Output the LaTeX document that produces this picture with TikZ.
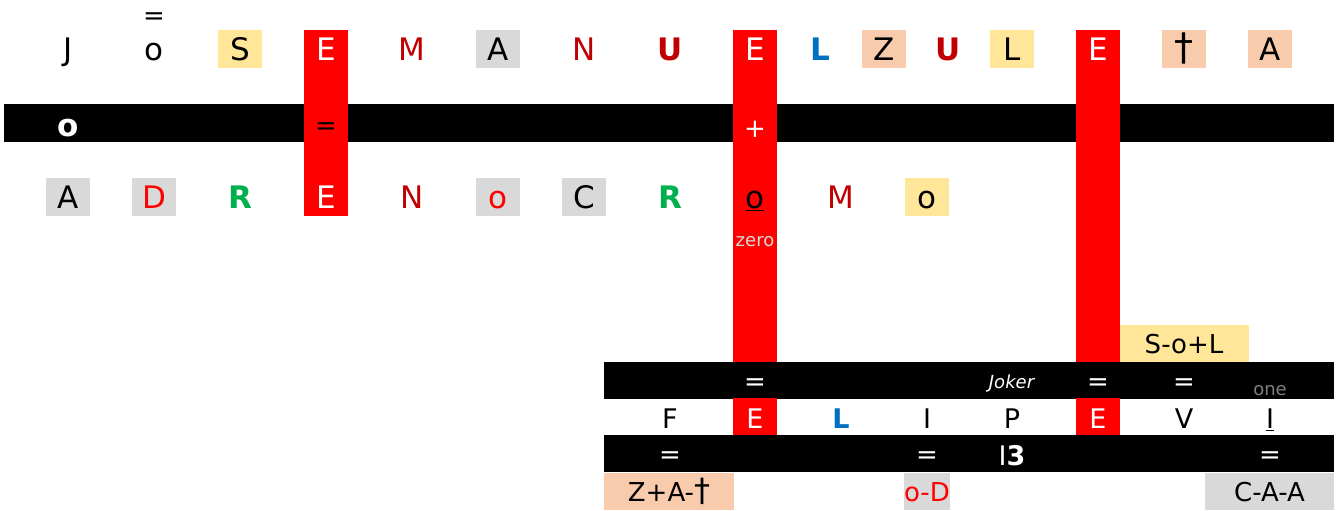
\documentclass[tikz,border=0pt]{standalone}
\usepackage{fontspec}
\setmainfont{DejaVu Sans}
\definecolor{cyel}{HTML}{FFE699}
\definecolor{cpeach}{HTML}{F8CBAD}
\definecolor{cgray}{HTML}{D9D9D9}
\definecolor{cred}{HTML}{FF0000}
\definecolor{cdred}{HTML}{C00000}
\definecolor{cgreen}{HTML}{00B050}
\definecolor{cblue}{HTML}{0070C0}
\definecolor{cone}{HTML}{7F7F7F}
\newcommand\fA{\fontsize{31}{31}\selectfont}
\newcommand\fB{\fontsize{27}{27}\selectfont}
\newcommand\fC{\fontsize{26}{26}\selectfont}
\newcommand\fD{\fontsize{18}{18}\selectfont}
\newcommand\mydag{{\fontsize{38}{38}\selectfont †}}
\newcommand\mydagsm{{\fontsize{32}{32}\selectfont †}}
\begin{document}
\begin{tikzpicture}[x=1pt,y=-1pt,
  cell/.style={minimum width=44pt,minimum height=38pt,inner sep=0pt,text height=23.6pt,text depth=0pt,font=\fA},
  low/.style={cell,text height=23.7pt,font=\fB},
  wide/.style={minimum height=37pt,inner sep=0pt,text height=20pt,text depth=0pt,font=\fC},
  eqs/.style={inner sep=0pt,font=\fC},
  small/.style={inner sep=0pt,font=\fD},
  bar/.style={fill=black,inner sep=0pt,anchor=north west},
  redcol/.style={fill=cred,inner sep=0pt,minimum width=44pt,anchor=north},
  yel/.style={fill=cyel}, pea/.style={fill=cpeach}, gry/.style={fill=cgray},
  wt/.style={text=white}
]
\useasboundingbox (0,0) rectangle (1341,511);
% top black bar
\node[bar,minimum width=1330pt,minimum height=38pt] (barT) at (4,104) {};
% red columns
\node[redcol,minimum height=186pt] (col1) at (326,30) {};
\node[redcol,minimum height=332pt] (col2) at (755,30) {};
\node[redcol,minimum height=332pt] (col3) at (1098,30) {};
% top row
\node[eqs] (eqtop) at (154,19) {=};
\node[cell] (t1) at (68,49) {J};
\node[cell] (t2) at (154,49) {o};
\node[cell,yel] (t3) at (240,49) {S};
\node[cell,wt] (t4) at (326,49) {E};
\node[cell,text=cdred] (t5) at (412,49) {M};
\node[cell,gry] (t6) at (498,49) {A};
\node[cell,text=cdred] (t7) at (584,49) {N};
\node[cell,text=cdred] (t8) at (670,49) {\textbf{U}};
\node[cell,wt] (t9) at (755,49) {E};
\node[cell,text=cblue] (t10) at (820,49) {\textbf{L}};
\node[cell,pea] (t11) at (884,49) {Z};
\node[cell,text=cdred] (t12) at (948,49) {\textbf{U}};
\node[cell,yel] (t13) at (1012,49) {L};
\node[cell,wt] (t14) at (1098,49) {E};
\node[cell,pea] (t15) at (1184,49) {\mydag};
\node[cell,pea] (t16) at (1270,49) {A};
% top bar contents
\node[cell,wt,text height=26pt] (b1) at (68,123) {\textbf{o}};
\node[eqs] (b2) at (326,129) {=};
\node[eqs,wt] (b3) at (755,129) {+};
% second row
\node[cell,gry] (r1) at (68,197) {A};
\node[cell,gry,text=cred] (r2) at (154,197) {D};
\node[cell,text=cgreen] (r3) at (240,197) {\textbf{R}};
\node[cell,wt] (r4) at (326,197) {E};
\node[cell,text=cdred] (r5) at (412,197) {N};
\node[cell,gry,text=cred] (r6) at (498,197) {o};
\node[cell,gry] (r7) at (584,197) {C};
\node[cell,text=cgreen] (r8) at (670,197) {\textbf{R}};
\node[cell] (r9) at (755,197) {\underline{o}};
\node[cell,text=cdred] (r10) at (841,197) {M};
\node[cell,yel] (r11) at (927,197) {o};
\node[small,text=cgray] (zero) at (755,242) {zero};
% lower block
\node[wide,yel,minimum width=129pt] (sol) at (1184,343.5) {S-o+L};
\node[bar,minimum width=730pt,minimum height=37pt] (barA) at (604,362) {};
\node[eqs,wt] (a1) at (755,385) {=};
\node[small,wt] (joker) at (1012,383) {\textit{Joker}};
\node[eqs,wt] (a2) at (1098,385) {=};
\node[eqs,wt] (a3) at (1184,385) {=};
\node[small,text=cone] (one) at (1270,391) {one};
% FELIPEVI row
\node[low] (f1) at (670,417) {F};
\node[low,fill=cred,wt] (f2) at (755,417) {E};
\node[low,text=cblue] (f3) at (841,417) {\textbf{L}};
\node[low] (f4) at (927,417) {I};
\node[low] (f5) at (1012,417) {P};
\node[low,fill=cred,wt] (f6) at (1098,417) {E};
\node[low] (f7) at (1184,417) {V};
\node[low] (f8) at (1270,417) {\underline{I}};
% bar B
\node[bar,minimum width=730pt,minimum height=37pt] (barB) at (604,435) {};
\node[eqs,wt] (c1) at (670,458) {=};
\node[eqs,wt] (c2) at (927,458) {=};
\node[low,wt] (c3) at (1012,453.5) {I\textbf{3}};
\node[eqs,wt] (c4) at (1270,458) {=};
% bottom cells
\node[wide,pea,minimum width=130pt] (z1) at (669,491.5) {Z+A-\mydagsm};
\node[wide,gry,text=cred,minimum width=44pt] (z2) at (927,491.5) {o-D};
\node[wide,gry,minimum width=129pt] (z3) at (1269.5,491.5) {C-A-A};
\end{tikzpicture}
\end{document}
